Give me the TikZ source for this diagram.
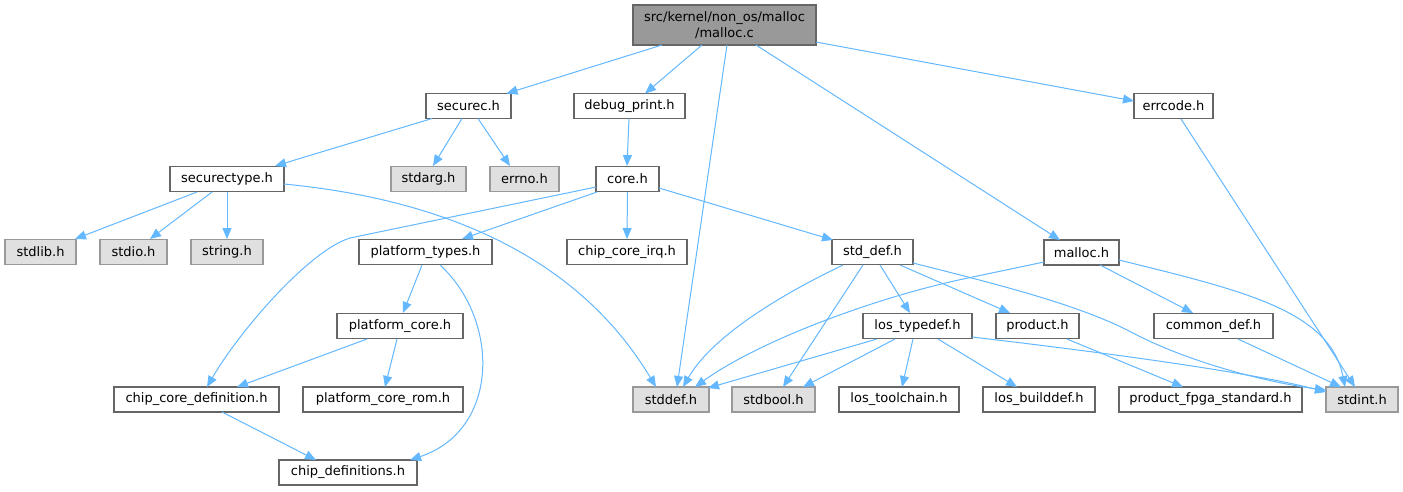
\documentclass[tikz,border=0pt]{standalone}
\usepackage{fontspec}
\setmainfont{DejaVu Sans}
\usetikzlibrary{arrows.meta}
\definecolor{edgec}{HTML}{63B8FF}
\definecolor{bordc}{HTML}{666666}
\definecolor{sysfill}{HTML}{E0E0E0}
\definecolor{sysbord}{HTML}{999999}
\definecolor{topfill}{HTML}{999999}
\begin{document}
\begin{tikzpicture}[x=1pt,y=-1pt,
  box/.style={draw=bordc, fill=white, line width=1.2pt, minimum height=25pt, inner sep=0pt, font=\fontsize{13}{16}\selectfont},
  sys/.style={box, draw=sysbord, fill=sysfill},
  topbox/.style={box, fill=topfill, minimum height=40pt, align=center},
  edge/.style={draw=edgec, line width=1pt, -{Triangle[length=11pt,width=9pt]}}]
\path[fill=white, use as bounding box] (0,0) rectangle (1403,491);
% nodes
\node[topbox, minimum width=183pt] (mallocc) at (724.5,25) {src/kernel/non\_os/malloc\\/malloc.c};
\node[box, minimum width=85pt] (securec) at (468.5,106) {securec.h};
\node[box, minimum width=111pt] (debug) at (629.5,106) {debug\_print.h};
\node[box, minimum width=79pt] (errcode) at (1173.5,106) {errcode.h};
\node[box, minimum width=114pt] (securectype) at (227,179) {securectype.h};
\node[sys, minimum width=75pt] (stdarg) at (428.5,179) {stdarg.h};
\node[sys, minimum width=69pt] (errno) at (524.5,179) {errno.h};
\node[box, minimum width=63pt] (core) at (627.5,179) {core.h};
\node[sys, minimum width=71pt] (stdlib) at (40.5,252) {stdlib.h};
\node[sys, minimum width=67pt] (stdio) at (133.5,252) {stdio.h};
\node[sys, minimum width=72pt] (string) at (227,252) {string.h};
\node[box, minimum width=133pt] (ptypes) at (425.5,252) {platform\_types.h};
\node[box, minimum width=120pt] (irq) at (627,252) {chip\_core\_irq.h};
\node[box, minimum width=81pt] (stddefh) at (872.5,252) {std\_def.h};
\node[box, minimum width=75pt] (malloch) at (1081.5,252.5) {malloc.h};
\node[box, minimum width=126pt] (pcore) at (400,326) {platform\_core.h};
\node[box, minimum width=109pt] (lostypedef) at (917.5,326) {los\_typedef.h};
\node[box, minimum width=83pt] (product) at (1037.5,326) {product.h};
\node[box, minimum width=119pt] (commondef) at (1213.5,326) {common\_def.h};
\node[box, minimum width=165pt] (ccdef) at (196.5,399.5) {chip\_core\_definition.h};
\node[box, minimum width=160pt] (pcrom) at (383,399.5) {platform\_core\_rom.h};
\node[sys, minimum width=76pt] (stddef) at (671,399.5) {stddef.h};
\node[sys, minimum width=83pt] (stdbool) at (773.5,399.5) {stdbool.h};
\node[box, minimum width=120pt] (toolchain) at (899,399.5) {los\_toolchain.h};
\node[box, minimum width=112pt] (builddef) at (1039,399.5) {los\_builddef.h};
\node[box, minimum width=183pt] (fpga) at (1210.5,399.5) {product\_fpga\_standard.h};
\node[sys, minimum width=72pt] (stdint) at (1362,399.5) {stdint.h};
\node[box, minimum width=138pt] (chipdefs) at (348,472.5) {chip\_definitions.h};
% edges
\draw[edge] ([shift={(-62.5,20)}]mallocc.center) -- ([shift={(38,-12.5)}]securec.center);
\draw[edge] ([shift={(-22.5,20)}]mallocc.center) -- ([shift={(15.5,-12.5)}]debug.center);
\draw[edge] ([shift={(2.5,20)}]mallocc.center) -- ([shift={(6,-12.5)}]stddef.center);
\draw[edge] ([shift={(31.5,20)}]mallocc.center) -- ([shift={(-21.5,-12.5)}]malloch.center);
\draw[edge] ([shift={(91.5,17)}]mallocc.center) -- ([shift={(-39.5,-5)}]errcode.center);
\draw[edge] ([shift={(-36.5,12.5)}]securec.center) -- ([shift={(48,-13)}]securectype.center);
\draw[edge] ([shift={(-6.5,12.5)}]securec.center) -- ([shift={(4.5,-13)}]stdarg.center);
\draw[edge] ([shift={(9.5,12.5)}]securec.center) -- ([shift={(-14.5,-13)}]errno.center);
\draw[edge] ([shift={(-0.5,12.5)}]debug.center) -- ([shift={(-0.5,-13)}]core.center);
\draw[edge] ([shift={(7.5,13)}]errcode.center) -- ([shift={(-7,-12.5)}]stdint.center);
\draw[edge] ([shift={(-30,13)}]securectype.center) -- ([shift={(34.5,-13)}]stdlib.center);
\draw[edge] ([shift={(-15,13)}]securectype.center) -- ([shift={(16.5,-13)}]stdio.center);
\draw[edge] ([shift={(0,13)}]securectype.center) -- ([shift={(0,-13)}]string.center);
\draw[edge] ([shift={(57,5)}]securectype.center) .. controls (450,200) and (580,260) .. ([shift={(-15,-12.5)}]stddef.center);
\draw[edge] ([shift={(-31.5,8)}]core.center) -- (350,238) .. controls (310,250) and (240,330) .. ([shift={(10.5,-12.5)}]ccdef.center);
\draw[edge] ([shift={(-30.5,13)}]core.center) -- ([shift={(36.5,-13)}]ptypes.center);
\draw[edge] ([shift={(0,13)}]core.center) -- ([shift={(0,-13)}]irq.center);
\draw[edge] ([shift={(31.5,9)}]core.center) -- ([shift={(-39.5,-12)}]stddefh.center);
\draw[edge] ([shift={(-3.5,13)}]ptypes.center) -- ([shift={(3,-13)}]pcore.center);
\draw[edge] ([shift={(14.5,13)}]ptypes.center) .. controls (500,320) and (500,430) .. ([shift={(62,-12.5)}]chipdefs.center);
\draw[edge] ([shift={(-33,13)}]pcore.center) -- ([shift={(40.5,-12.5)}]ccdef.center);
\draw[edge] ([shift={(-3,13)}]pcore.center) -- ([shift={(2,-12.5)}]pcrom.center);
\draw[edge] ([shift={(25.5,12.5)}]ccdef.center) -- ([shift={(-32,-12.5)}]chipdefs.center);
\draw[edge] ([shift={(-29.5,13)}]stddefh.center) .. controls (770,300) and (710,340) .. ([shift={(12,-12.5)}]stddef.center);
\draw[edge] ([shift={(-9.5,13)}]stddefh.center) -- ([shift={(9.5,-12.5)}]stdbool.center);
\draw[edge] ([shift={(7.5,13)}]stddefh.center) -- ([shift={(-7.5,-13)}]lostypedef.center);
\draw[edge] ([shift={(27.5,13)}]stddefh.center) -- ([shift={(-27.5,-13)}]product.center);
\draw[edge] ([shift={(40.5,11)}]stddefh.center) .. controls (1000,285) and (1080,305) .. (1133,333) .. controls (1190,363) and (1270,383) .. ([shift={(-36,-9.5)}]stdint.center);
\draw[edge] ([shift={(-37.5,9.5)}]malloch.center) -- (968,278) .. controls (880,296) and (760,340) .. ([shift={(24,-12.5)}]stddef.center);
\draw[edge] ([shift={(18.5,12.5)}]malloch.center) -- ([shift={(-20.5,-13)}]commondef.center);
\draw[edge] ([shift={(37.5,7.5)}]malloch.center) .. controls (1240,290) and (1330,310) .. ([shift={(-17,-12.5)}]stdint.center);
\draw[edge] ([shift={(-40.5,13)}]lostypedef.center) -- ([shift={(37,-11.5)}]stddef.center);
\draw[edge] ([shift={(-22.5,13)}]lostypedef.center) -- ([shift={(29.5,-12.5)}]stdbool.center);
\draw[edge] ([shift={(-4.5,13)}]lostypedef.center) -- ([shift={(3,-12.5)}]toolchain.center);
\draw[edge] ([shift={(20.5,13)}]lostypedef.center) -- ([shift={(-22,-12.5)}]builddef.center);
\draw[edge] ([shift={(54.5,11)}]lostypedef.center) .. controls (1100,352) and (1250,372) .. ([shift={(-36,-7.5)}]stdint.center);
\draw[edge] ([shift={(29.5,13)}]product.center) -- ([shift={(-27.5,-12.5)}]fpga.center);
\draw[edge] ([shift={(24.5,13)}]commondef.center) -- ([shift={(-21,-12.5)}]stdint.center);
\end{tikzpicture}
\end{document}
